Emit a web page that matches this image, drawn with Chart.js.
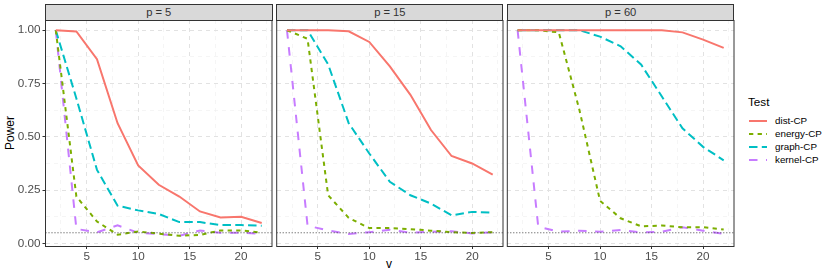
<!DOCTYPE html>
<html>
<head>
<meta charset="utf-8">
<script src="https://cdn.jsdelivr.net/npm/chart.js@4/dist/chart.umd.min.js"></script>
<style>
  body { margin: 0; background: #fff; width: 830px; height: 277px; position: relative; overflow: hidden;
         font-family: "Liberation Sans", Arial, sans-serif; }
  canvas { position: absolute; }
  .strip { position: absolute; top: 4px; height: 17px; box-sizing: border-box; background: #d9d9d9;
           border: 1px solid #333; color: #333; font-size: 11.2px; font-weight: normal; line-height: 15px; text-align: center; }
  .title { position: absolute; color: #000; font-size: 12px; }
  #legend { position: absolute; left: 748px; top: 95px; }
  #legend .head { font-size: 11.7px; color: #000; margin-bottom: 6px; }
  #legend .item { height: 13px; display: flex; align-items: center; font-size: 9.8px; color: #000; }
  #legend svg { margin-right: 8px; margin-left: 1px; }
</style>
</head>
<body>
<div class="title" style="left:-7px;top:126px;transform:rotate(-90deg);">Power</div>
<div class="title" style="left:386px;top:257px;">v</div>
<div id="legend"></div>
<script>
// x values (v) shared by every panel
const vValues = [2, 4, 6, 8, 10, 12, 14, 16, 18, 20, 22];
const panelLabels = ["p = 5", "p = 15", "p = 60"];
const testNames = ["dist-CP", "energy-CP", "graph-CP", "kernel-CP"];
const xTicks = [5, 10, 15, 20];
const yTicks = [0, 0.25, 0.5, 0.75, 1];
const alphaLevel = 0.05;

// p = 5
const distP5   = [1.00, 0.994, 0.864, 0.564, 0.366, 0.275, 0.220, 0.150, 0.122, 0.125, 0.096];
const energyP5 = [1.00, 0.220, 0.103, 0.041, 0.056, 0.046, 0.036, 0.040, 0.061, 0.061, 0.050];
const graphP5  = [1.00, 0.680, 0.345, 0.177, 0.155, 0.138, 0.100, 0.100, 0.086, 0.086, 0.083];
const kernelP5 = [1.00, 0.068, 0.052, 0.085, 0.050, 0.044, 0.036, 0.061, 0.050, 0.050, 0.045];
// p = 15
const distP15   = [1.00, 1.00, 1.00, 0.995, 0.945, 0.830, 0.697, 0.532, 0.410, 0.375, 0.323];
const energyP15 = [1.00, 0.960, 0.226, 0.120, 0.072, 0.072, 0.067, 0.060, 0.053, 0.049, 0.053];
const graphP15  = [1.00, 1.00, 0.840, 0.564, 0.422, 0.289, 0.226, 0.187, 0.132, 0.148, 0.144];
const kernelP15 = [1.00, 0.083, 0.061, 0.044, 0.053, 0.064, 0.050, 0.055, 0.057, 0.047, 0.053];
// p = 60
const distP60   = [1.00, 1.00, 1.00, 1.00, 1.00, 1.00, 1.00, 1.00, 0.990, 0.956, 0.917];
const energyP60 = [1.00, 1.00, 0.990, 0.626, 0.200, 0.118, 0.080, 0.084, 0.076, 0.076, 0.065];
const graphP60  = [1.00, 1.00, 1.00, 1.00, 0.970, 0.925, 0.838, 0.689, 0.540, 0.453, 0.390];
const kernelP60 = [1.00, 0.079, 0.055, 0.060, 0.055, 0.063, 0.052, 0.055, 0.076, 0.060, 0.045];

const panelSeries = [
  [distP5, energyP5, graphP5, kernelP5],
  [distP15, energyP15, graphP15, kernelP15],
  [distP60, energyP60, graphP60, kernelP60],
];

const colors = ["#F8766D", "#7CAE00", "#00BFC4", "#C77CFF"];
const dashes = [[], [4.3, 4.3], [8.5, 4.3], [8.5, 8.5]];

// panel geometry (px)
const panelLeft = [45.5, 276.7, 507.3];
const panelRight = [272, 503, 734];
const canvasLeft = [0, 274, 505];
const canvasWidth = [276, 233, 233];
const xMin = 1, xMax = 23, yMin = -0.012, yMax = 1.048;

const minorX = xTicks.map(t => t - 2.5).concat([xTicks[xTicks.length - 1] + 2.5]);
const minorY = yTicks.slice(1).map(t => t - 0.125);

const panelBorder = {
  id: "panelBorder",
  afterDraw(chart) {
    const {ctx, chartArea: a} = chart;
    ctx.save();
    ctx.strokeStyle = "#333";
    ctx.lineWidth = 1;
    ctx.strokeRect(a.left, a.top + 0.5, a.right - a.left, a.bottom - a.top);
    ctx.restore();
  }
};

function gridColor(ctx, majors) {
  return majors.includes(ctx.tick.value) ? "#e2e2e2" : "#eeeeee";
}

function noPad(s) {
  s.paddingTop = 0; s.paddingBottom = 0; s.paddingLeft = 0; s.paddingRight = 0;
}

panelSeries.forEach((series, i) => {
  const strip = document.createElement("div");
  strip.className = "strip";
  strip.style.left = (panelLeft[i] - 0.5) + "px";
  strip.style.width = (panelRight[i] - panelLeft[i] + 1) + "px";
  strip.textContent = panelLabels[i];
  document.body.appendChild(strip);

  const canvas = document.createElement("canvas");
  canvas.width = canvasWidth[i];
  canvas.height = 244;
  canvas.style.left = canvasLeft[i] + "px";
  canvas.style.top = "18px";
  document.body.appendChild(canvas);

  const datasets = series.map((vals, k) => ({
    label: testNames[k],
    data: vValues.map((v, j) => ({x: v, y: vals[j]})),
    borderColor: colors[k],
    borderDash: dashes[k],
    borderWidth: 2,
    pointRadius: 0,
    tension: 0,
    fill: false,
    order: 1,
  }));
  datasets.push({
    label: "alpha",
    data: [{x: xMin, y: alphaLevel}, {x: xMax, y: alphaLevel}],
    borderColor: "#444",
    borderDash: [1, 2],
    borderWidth: 1,
    pointRadius: 0,
    order: 0,
  });

  new Chart(canvas, {
    type: "line",
    data: {datasets},
    options: {
      responsive: false,
      animation: false,
      layout: {padding: {top: 2, right: canvasLeft[i] + canvasWidth[i] - panelRight[i], left: 0, bottom: 0}},
      plugins: {legend: {display: false}, tooltip: {enabled: false}},
      scales: {
        x: {
          type: "linear", min: xMin, max: xMax,
          afterBuildTicks: s => { s.ticks = minorX.concat(xTicks).sort((a, b) => a - b).map(v => ({value: v})); },
          afterFit: s => { s.height = 16; noPad(s); },
          border: {display: false, dash: [4, 4]},
          grid: {
            color: c => gridColor(c, xTicks),
            lineWidth: c => xTicks.includes(c.tick.value) ? 1 : 0.6,
            drawTicks: true, tickLength: 3, tickWidth: 1, tickBorderDash: [],
            tickColor: c => xTicks.includes(c.tick.value) ? "#333" : "rgba(0,0,0,0)",
          },
          ticks: {
            autoSkip: false, maxRotation: 0, padding: 1, color: "#4d4d4d",
            font: {family: "Liberation Sans", size: 11.7},
            callback: v => xTicks.includes(v) ? String(v) : "",
          },
        },
        y: {
          type: "linear", min: yMin, max: yMax,
          afterBuildTicks: s => { s.ticks = minorY.concat(yTicks).sort((a, b) => a - b).map(v => ({value: v})); },
          afterFit: s => { s.width = panelLeft[i] - canvasLeft[i]; noPad(s); },
          border: {display: false, dash: [4, 4]},
          grid: {
            color: c => gridColor(c, yTicks),
            lineWidth: c => yTicks.includes(c.tick.value) ? 1 : 0.6,
            drawTicks: i === 0, tickLength: 3, tickWidth: 1, tickBorderDash: [],
            tickColor: c => yTicks.includes(c.tick.value) ? "#333" : "rgba(0,0,0,0)",
          },
          ticks: {
            display: i === 0, autoSkip: false, padding: 2, color: "#4d4d4d",
            font: {family: "Liberation Sans", size: 11.7},
            callback: v => yTicks.includes(v) ? v.toFixed(2) : "",
          },
        },
      },
    },
    plugins: [panelBorder],
  });
});

// legend
const legend = document.getElementById("legend");
legend.innerHTML = '<div class="head">Test</div>' + testNames.map((name, k) =>
  `<div class="item"><svg width="18" height="6"><line x1="0" y1="3" x2="18" y2="3" stroke="${colors[k]}" ` +
  `stroke-width="2" stroke-dasharray="${dashes[k].join(",") || "none"}"/></svg>${name}</div>`
).join("");
</script>
</body>
</html>
